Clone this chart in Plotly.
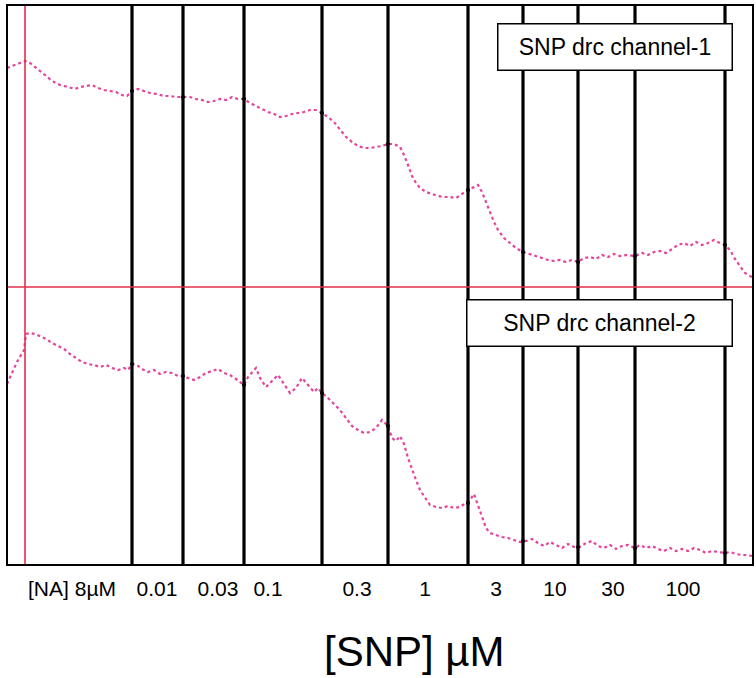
import plotly.graph_objects as go

# ---------------- data ----------------
# channel 1 trace (time in arbitrary units, tension in arbitrary units)
ch1_t = [0, 5, 11, 18, 23, 31, 38, 45, 53, 61, 68, 73, 79, 85, 91, 97, 103, 109, 115, 120,
         125, 131, 137, 143, 150, 157, 163, 169, 176, 183, 189, 195, 201, 207, 213, 219, 225, 231,
         237, 243, 249, 255, 261, 267, 273, 279, 285, 291, 297, 303, 309, 315, 321, 327, 333, 339,
         345, 351, 357, 363, 369, 375, 381, 387, 393, 397, 401, 405, 409, 413, 419, 425, 431, 437,
         443, 449, 455, 461, 467, 471, 475, 479, 483, 487, 491, 497, 503, 509, 516, 523, 529, 535,
         541, 547, 553, 559, 565, 571, 577, 583, 589, 595, 601, 607, 613, 619, 628, 635, 641, 647,
         653, 659, 665, 671, 677, 683, 689, 695, 701, 707, 713, 718, 723, 728, 733, 738, 743, 745]
ch1_v = [219, 221, 224, 226, 224, 218, 212, 206, 202, 200, 198, 200, 201, 202, 199, 197, 196, 195, 192, 191,
         196, 198, 196, 194, 193, 191, 191, 190, 190, 190, 188, 187, 185, 186, 188, 187, 190, 188,
         188, 184, 181, 178, 175, 173, 170, 171, 173, 174, 175, 177, 177, 174, 170, 165, 157, 150,
         145, 141, 139, 139, 140, 141, 143, 143, 140, 132, 122, 111, 104, 99, 95, 93, 91, 90,
         90, 89, 93, 97, 100, 102, 95, 85, 74, 65, 57, 49, 44, 39, 35, 33, 31, 29,
         27, 26, 27, 25, 27, 25, 29, 30, 28, 32, 30, 33, 31, 32, 31, 34, 32, 35,
         36, 34, 38, 42, 44, 41, 45, 42, 44, 47, 44, 42, 37, 28, 21, 14, 11, 10]

# channel 2 trace
ch2_t = [0, 3, 6, 10, 14, 17, 19, 23, 28, 33, 39, 45, 51, 57, 63, 69, 75, 81, 87, 93, 99, 105,
         111, 117, 121, 125, 130, 135, 141, 147, 153, 159, 165, 171, 176, 181, 187, 193, 199, 205,
         211, 217, 223, 229, 233, 237, 241, 245, 249, 253, 259, 265, 271, 277, 283, 289, 295, 301,
         307, 311, 315, 321, 327, 333, 339, 345, 351, 357, 363, 369, 375, 381, 385, 389, 393, 397,
         401, 405, 409, 413, 418, 423, 429, 435, 441, 447, 453, 459, 463, 467, 471, 475, 479, 483,
         489, 495, 501, 507, 513, 519, 525, 531, 537, 543, 549, 555, 561, 567, 573, 579, 585, 591,
         597, 603, 609, 615, 621, 628, 633, 639, 645, 651, 657, 663, 669, 675, 681, 687, 693, 699,
         705, 711, 718, 723, 729, 735, 741, 745]
ch2_v = [181, 188, 195, 203, 210, 215, 231, 232, 231, 229, 226, 222, 219, 216, 211, 207, 203, 201, 200, 198, 200, 197,
         195, 197, 195, 201, 200, 196, 193, 195, 191, 193, 192, 189, 189, 187, 185, 188, 192, 194,
         196, 192, 190, 186, 183, 180, 188, 193, 197, 187, 178, 184, 190, 181, 172, 177, 187, 180,
         173, 177, 172, 167, 161, 155, 147, 139, 135, 132, 133, 137, 145, 139, 127, 124, 129, 121,
         107, 95, 85, 75, 68, 60, 58, 57, 59, 57, 58, 62, 65, 71, 60, 47, 37, 32,
         30, 28, 27, 25, 23, 24, 26, 22, 19, 23, 20, 17, 21, 18, 18, 22, 24, 19,
         17, 20, 16, 19, 20, 17, 20, 17, 19, 16, 14, 17, 14, 16, 14, 17, 15, 12,
         14, 13, 12, 13, 11, 10, 10, 9]

# drug additions (time of each addition) and labels of the concentration periods
na_time = 18
snp_times = [125, 176, 237, 315, 381, 461, 516, 571, 628, 718]
period_centres = [65, 150, 211, 261, 350, 418, 489, 548, 606, 676]
period_labels = ["[NA] 8µM", "0.01", "0.03", "0.1", "0.3", "1", "3", "10", "30", "100"]

# trace values at each addition (black marks)
ch1_at_add = [196, 190, 188, 174, 143, 97, 35, 25, 31, 42]
ch2_at_add = [201, 189, 180, 172, 139, 62, 24, 18, 17, 12]

# ---------------- figure ----------------
PINK = "#e6449b"
split = 278 / 560  # fraction of plot height taken by channel 2
FONT = "Liberation Sans, Arial"

fig = go.Figure()
fig.add_trace(go.Scatter(x=ch1_t, y=ch1_v, mode="lines", xaxis="x", yaxis="y",
                         line=dict(color=PINK, width=2.2, dash="dot"), showlegend=False))
fig.add_trace(go.Scatter(x=ch2_t, y=ch2_v, mode="lines", xaxis="x", yaxis="y2",
                         line=dict(color=PINK, width=2.2, dash="dot"), showlegend=False))
fig.add_trace(go.Scatter(x=snp_times, y=ch1_at_add, mode="markers", yaxis="y",
                         marker=dict(color="black", size=4), showlegend=False))
fig.add_trace(go.Scatter(x=snp_times, y=ch2_at_add, mode="markers", yaxis="y2",
                         marker=dict(color="black", size=4), showlegend=False))

shapes = []
for t in snp_times:
    shapes.append(dict(type="line", xref="x", yref="paper", x0=t, x1=t, y0=0, y1=1,
                       line=dict(color="black", width=3.2)))
shapes.append(dict(type="line", xref="x", yref="paper", x0=na_time, x1=na_time, y0=0, y1=1,
                   line=dict(color="#e2304a", width=1.6)))
shapes.append(dict(type="line", xref="paper", yref="paper", x0=0, x1=1, y0=split, y1=split,
                   line=dict(color="#e2304a", width=1.6)))
shapes.append(dict(type="rect", xref="paper", yref="paper", x0=0, x1=1, y0=0, y1=1,
                   line=dict(color="black", width=2)))

annotations = [
    dict(text="SNP drc channel-1", xref="paper", yref="paper", x=(615 - 7) / 746, y=(565 - 47) / 560,
         xanchor="center", yanchor="middle", showarrow=False, bgcolor="white",
         bordercolor="black", borderwidth=1.5, borderpad=0, width=233, height=45,
         font=dict(size=23, color="black", family=FONT)),
    dict(text="SNP drc channel-2", xref="paper", yref="paper", x=(599.5 - 7) / 746, y=(565 - 323) / 560,
         xanchor="center", yanchor="middle", showarrow=False, bgcolor="white",
         bordercolor="black", borderwidth=1.5, borderpad=0, width=264, height=45,
         font=dict(size=23, color="black", family=FONT)),
    dict(text="[SNP] µM", xref="paper", yref="paper", x=(414 - 7) / 746, y=-(651 - 565) / 560,
         xanchor="center", yanchor="middle", showarrow=False,
         font=dict(size=42, color="black", family=FONT)),
]

fig.update_layout(
    width=756, height=678,
    margin=dict(l=7, r=3, t=5, b=113),
    paper_bgcolor="white", plot_bgcolor="white",
    xaxis=dict(range=[0, 746], anchor="y2", showgrid=False, zeroline=False, showline=False,
               tickmode="array", tickvals=period_centres, ticktext=period_labels,
               ticks="outside", ticklen=5, tickcolor="rgba(0,0,0,0)",
               tickfont=dict(size=21, color="black", family=FONT)),
    yaxis=dict(domain=[split, 1], range=[0, 282], visible=False),
    yaxis2=dict(domain=[0, split], range=[0, 278], visible=False),
    shapes=shapes,
    annotations=annotations,
)

fig.write_html("out.html", config={"displayModeBar": False},
               post_script="document.body.style.margin='0px';")
